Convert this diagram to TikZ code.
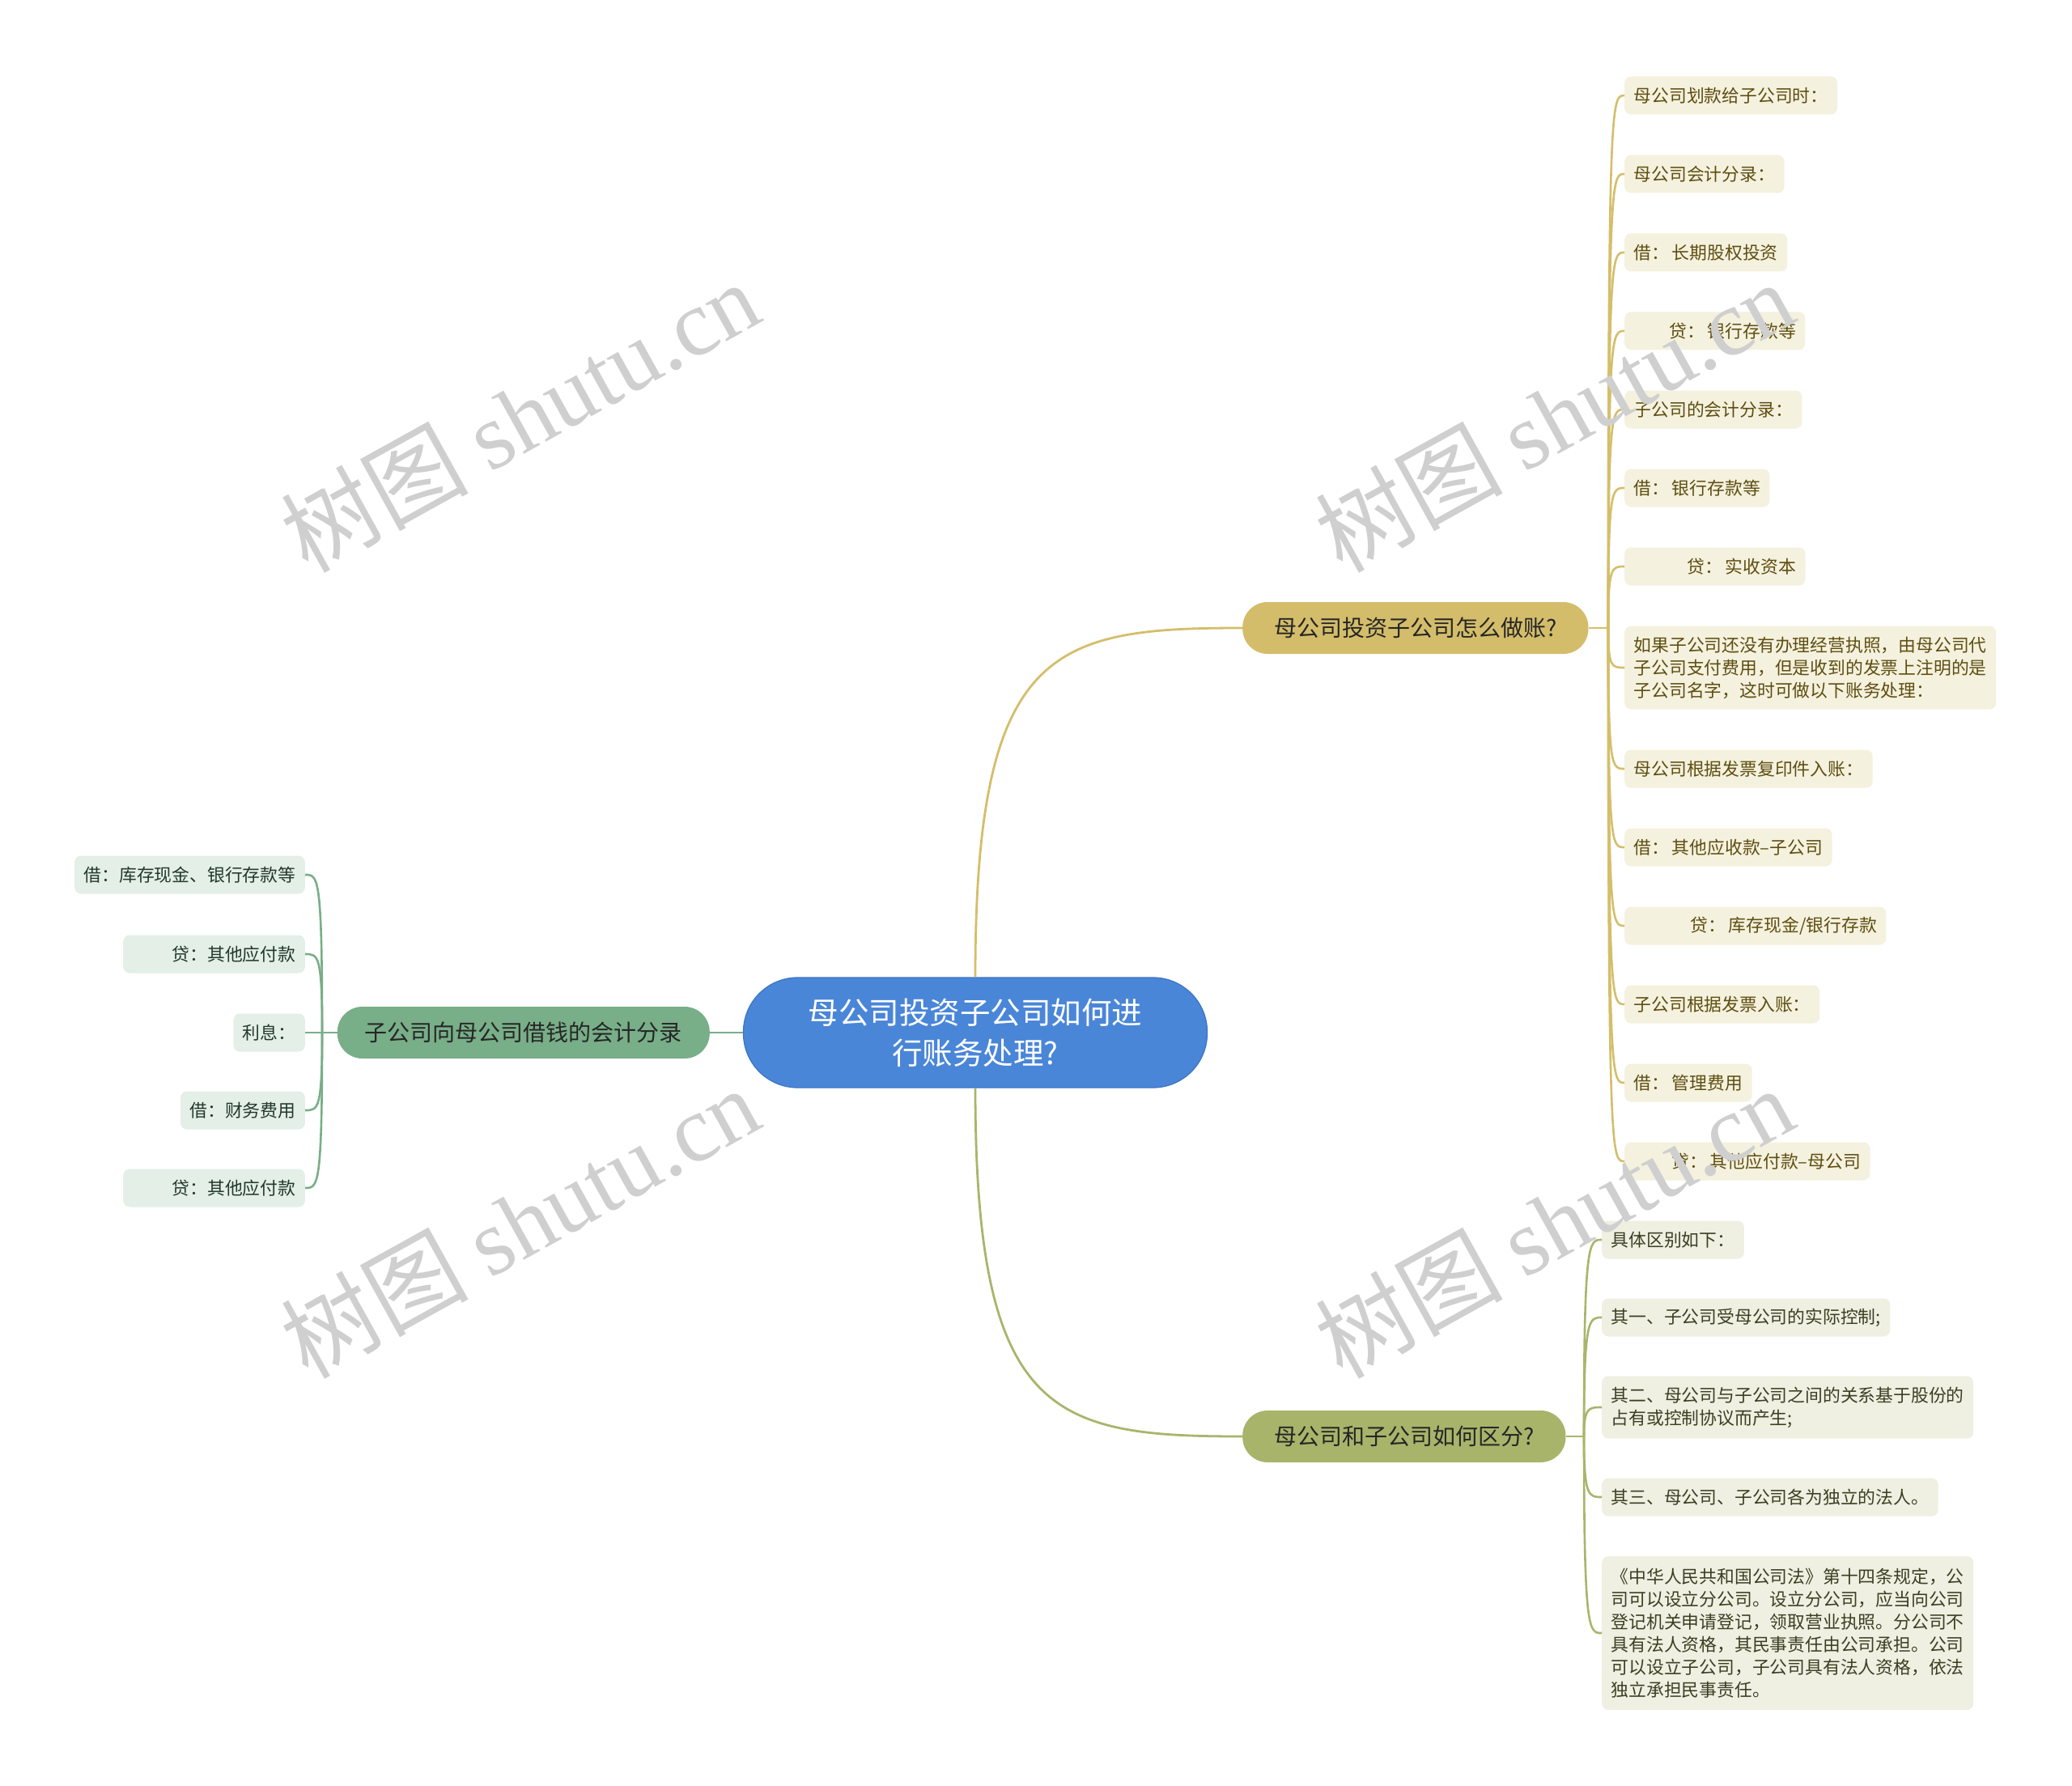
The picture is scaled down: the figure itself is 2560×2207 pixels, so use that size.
\documentclass[tikz,border=0pt]{standalone}
\usepackage{fontspec}
\setmainfont{Noto Sans CJK SC}
\newfontfamily\wmserif{Liberation Serif}
\definecolor{cblue}{HTML}{4A86D8}
\definecolor{cblueD}{HTML}{3C74C4}
\definecolor{gfill}{HTML}{D4BD6A}
\definecolor{gline}{HTML}{D4BE6A}
\definecolor{gleaf}{HTML}{F5F1DF}
\definecolor{gtext}{HTML}{5E4E10}
\definecolor{ofill}{HTML}{A8B46A}
\definecolor{oline}{HTML}{A9B56A}
\definecolor{oleaf}{HTML}{EFF0E2}
\definecolor{otext}{HTML}{3B3F22}
\definecolor{grfill}{HTML}{78AE88}
\definecolor{grline}{HTML}{78AE88}
\definecolor{grleaf}{HTML}{E3EFE7}
\definecolor{grtext}{HTML}{23382A}
\definecolor{wmgray}{HTML}{CFCFCF}
\begin{document}
\begin{tikzpicture}[x=1pt,y=-1pt,
  central/.style={fill=cblue, draw=cblueD, line width=1.2pt, rounded corners=67pt,
    minimum width=573pt, minimum height=136pt, text=white, align=center,
    font=\fontsize{37.5}{50}\selectfont},
  branch/.style={rounded corners=31pt, minimum height=64pt, inner xsep=39pt, inner ysep=0pt,
    font=\fontsize{28}{34}\selectfont},
  leaf/.style={rounded corners=8pt, minimum height=47pt, inner xsep=11.5pt, inner ysep=10pt,
    align=left, font=\fontsize{21.8}{28}\selectfont},
  gleafs/.style={leaf, fill=gleaf, text=gtext, anchor=west},
  oleafs/.style={leaf, fill=oleaf, text=otext, anchor=west},
  grleafs/.style={leaf, fill=grleaf, text=grtext, anchor=east},
  glink/.style={draw=gline, line width=2.6pt},
  olink/.style={draw=oline, line width=2.6pt},
  grlink/.style={draw=grline, line width=2.6pt},
  wm/.style={rotate=29, text=wmgray, inner sep=0pt, font=\fontsize{116}{116}\selectfont}
]
\fill[white] (0,0) rectangle (2560,2207);
\useasboundingbox (0,0) rectangle (2560,2207);

% central and branches
\node[central] (c) at (1205,1276) {母公司投资子公司如何进\\行账务处理?};
\node[branch, fill=gfill, text=black!85, anchor=west] (gb) at (1535,776) {母公司投资子公司怎么做账?};
\node[branch, fill=ofill, text=black!85, anchor=west] (ob) at (1535,1775) {母公司和子公司如何区分?};
\node[branch, fill=grfill, text=black!85, anchor=east, inner xsep=34pt] (grb) at (877,1276) {子公司向母公司借钱的会计分录};

% gold leaves
\node[gleafs] (g1) at (2007,118) {母公司划款给子公司时：};
\node[gleafs] (g2) at (2007,215) {母公司会计分录：};
\node[gleafs] (g3) at (2007,312) {借：\,长期股权投资};
\node[gleafs] (g4) at (2007,409) {\hspace*{44pt}贷：\,银行存款等};
\node[gleafs] (g5) at (2007,506) {子公司的会计分录：};
\node[gleafs] (g6) at (2007,603) {借：\,银行存款等};
\node[gleafs] (g7) at (2007,700) {\hspace*{66pt}贷：\,实收资本};
\node[gleafs, minimum height=103pt] (g8) at (2007,825) {如果子公司还没有办理经营执照，由母公司代\\子公司支付费用，但是收到的发票上注明的是\\子公司名字，这时可做以下账务处理：};
\node[gleafs] (g9) at (2007,950) {母公司根据发票复印件入账：};
\node[gleafs] (g10) at (2007,1047) {借：\,其他应收款–子公司};
\node[gleafs] (g11) at (2007,1144) {\hspace*{70pt}贷：\,库存现金/银行存款};
\node[gleafs] (g12) at (2007,1241) {子公司根据发票入账：};
\node[gleafs] (g13) at (2007,1338) {借：\,管理费用};
\node[gleafs] (g14) at (2007,1435) {\hspace*{47pt}贷：\,其他应付款–母公司};

% olive leaves
\node[oleafs] (o1) at (1979,1532) {具体区别如下：};
\node[oleafs] (o2) at (1979,1628) {其一、子公司受母公司的实际控制;};
\node[oleafs, minimum height=77pt] (o3) at (1979,1739) {其二、母公司与子公司之间的关系基于股份的\\占有或控制协议而产生;};
\node[oleafs] (o4) at (1979,1850) {其三、母公司、子公司各为独立的法人。};
\node[oleafs, minimum height=190pt] (o5) at (1979,2018) {《中华人民共和国公司法》第十四条规定，公\\司可以设立分公司。设立分公司，应当向公司\\登记机关申请登记，领取营业执照。分公司不\\具有法人资格，其民事责任由公司承担。公司\\可以设立子公司，子公司具有法人资格，依法\\独立承担民事责任。};

% green leaves
\node[grleafs] (r1) at (377,1081) {借：库存现金、银行存款等};
\node[grleafs] (r2) at (377,1179) {\hspace*{49pt}贷：其他应付款};
\node[grleafs] (r3) at (377,1276) {利息：};
\node[grleafs] (r4) at (377,1372) {借：财务费用};
\node[grleafs] (r5) at (377,1468) {\hspace*{49pt}贷：其他应付款};

% main connectors
\draw[glink, line width=2.8pt] (c.north) .. controls ([yshift=408pt]c.north) and ([xshift=-235pt]gb.west) .. (gb.west);
\draw[olink, line width=2.8pt] (c.south) .. controls ([yshift=-406pt]c.south) and ([xshift=-235pt]ob.west) .. (ob.west);
\draw[grlink, line width=2.8pt] (c.west) -- (grb.east);

% junctions
\coordinate (gj) at (1987,776);
\coordinate (oj) at (1957,1775);
\coordinate (rj) at (398,1276);
\draw[glink] (gb.east) -- (gj);
\draw[olink] (ob.east) -- (oj);
\draw[grlink] (grb.west) -- (rj);

\foreach \i in {1,...,14}
  \draw[glink] (gj) .. controls (gj |- g\i.west) and ([xshift=-16pt]g\i.west) .. (g\i.west);
\foreach \i in {1,...,5}
  \draw[olink] (oj) .. controls (oj |- o\i.west) and ([xshift=-16pt]o\i.west) .. (o\i.west);
\foreach \i in {1,...,5}
  \draw[grlink] (rj) .. controls (rj |- r\i.east) and ([xshift=16pt]r\i.east) .. (r\i.east);

% watermarks
\node[wm] (w1) at (642,514) {树图 {\wmserif shutu.cn}};
\node[wm] (w2) at (1920,514) {树图 {\wmserif shutu.cn}};
\node[wm] (w3) at (642,1510) {树图 {\wmserif shutu.cn}};
\node[wm] (w4) at (1920,1510) {树图 {\wmserif shutu.cn}};
\end{tikzpicture}
\end{document}
